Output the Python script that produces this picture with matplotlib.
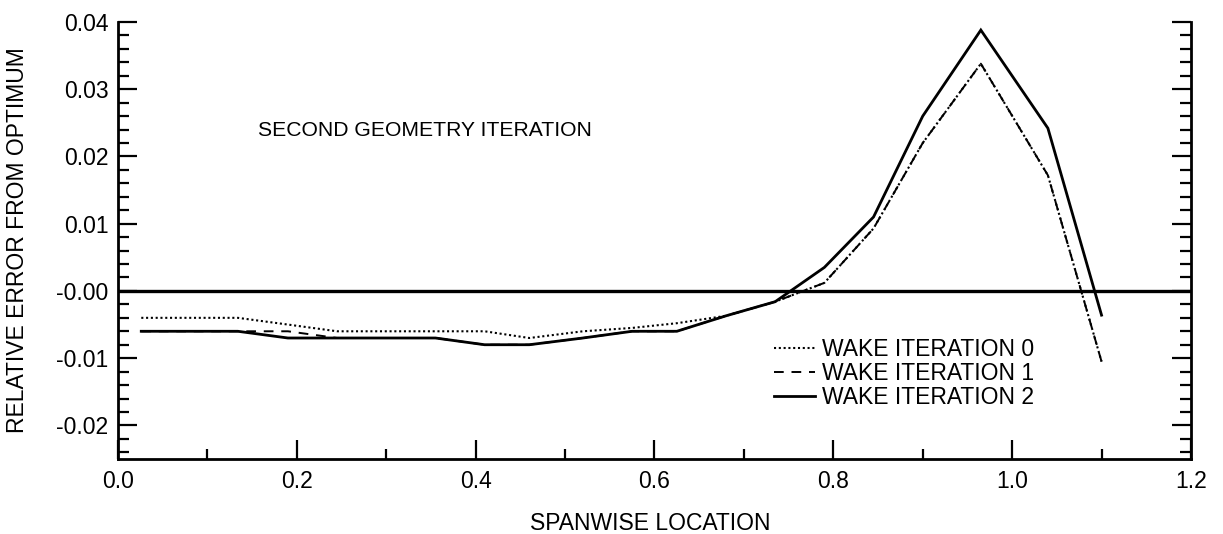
import matplotlib
matplotlib.use('Agg')
import matplotlib.pyplot as plt
from matplotlib.lines import Line2D
from matplotlib.ticker import MultipleLocator

plt.rcParams['font.family'] = ['Liberation Sans', 'DejaVu Sans']

# spanwise stations
span = [0.026, 0.08, 0.134, 0.19, 0.245, 0.30, 0.355, 0.41, 0.46, 0.52,
        0.575, 0.625, 0.68, 0.735, 0.79, 0.845, 0.90, 0.965, 1.04, 1.10]

# relative error from optimum for each wake iteration
wake0 = [-0.004, -0.004, -0.004, -0.005, -0.006, -0.006, -0.006, -0.006, -0.007, -0.006,
         -0.0055, -0.0048, -0.0037, -0.0016, 0.0012, 0.0093, 0.022, 0.0338, 0.0172, -0.0105]
wake1 = [-0.006, -0.006, -0.006, -0.006, -0.007, -0.007, -0.007, -0.008, -0.008, -0.007,
         -0.006, -0.006, -0.0037, -0.0016, 0.0012, 0.0093, 0.022, 0.0338, 0.0172, -0.0105]
wake2 = [-0.006, -0.006, -0.006, -0.007, -0.007, -0.007, -0.007, -0.008, -0.008, -0.007,
         -0.006, -0.006, -0.0037, -0.0016, 0.0035, 0.011, 0.026, 0.0388, 0.0242, -0.0036]

series_names = ['WAKE ITERATION 0', 'WAKE ITERATION 1', 'WAKE ITERATION 2']

xticks = [0.0, 0.2, 0.4, 0.6, 0.8, 1.0, 1.2]
yticks = [-0.02, -0.01, 0.0, 0.01, 0.02, 0.03, 0.04]
ytick_labels = ['-0.02', '-0.01', '-0.00', '0.01', '0.02', '0.03', '0.04']

fig = plt.figure(figsize=(12.23, 5.34), dpi=100)
ax = fig.add_axes([0.0965, 0.1404, 0.8773, 0.8184])

dotted = (0, (1, 1.3))
dashed = (0, (5, 4))

ax.axhline(0.0, color='black', lw=2.4, zorder=1)
ax.plot(span, wake1, color='black', lw=1.4, linestyle=dashed)
ax.plot(span, wake0, color='black', lw=1.5, linestyle=dotted)
ax.plot(span, wake2, color='black', lw=2.0, solid_joinstyle='miter')

ax.set_xlim(0.0, 1.2)
ax.set_ylim(-0.025, 0.04)

ax.set_xticks(xticks)
ax.set_xticklabels(['%.1f' % t for t in xticks])
ax.set_yticks(yticks)
ax.set_yticklabels(ytick_labels)
ax.xaxis.set_minor_locator(MultipleLocator(0.1))
ax.yaxis.set_minor_locator(MultipleLocator(0.002))

ax.tick_params(axis='both', which='major', direction='in', length=14, width=1.6,
               labelsize=16.5, right=True, top=False)
ax.tick_params(axis='x', which='major', pad=8)
ax.tick_params(axis='y', which='major', pad=7)
ax.tick_params(axis='x', which='minor', direction='in', length=7, width=1.6, top=False)
ax.tick_params(axis='y', which='minor', direction='in', length=8, width=1.6, right=True)

ax.spines['top'].set_visible(False)
for s in ['left', 'right', 'bottom']:
    ax.spines[s].set_linewidth(2.0)

ax.set_xlabel('SPANWISE LOCATION', fontsize=16.5)
ax.xaxis.set_label_coords(0.496, -0.122)
ax.set_ylabel('RELATIVE ERROR FROM OPTIMUM', fontsize=16.5)
ax.yaxis.set_label_coords(-0.083, 0.5)

ax.text(0.156, 0.0239, 'SECOND GEOMETRY ITERATION', fontsize=15.2, va='center', ha='left')

handles = [Line2D([], [], color='black', lw=1.5, linestyle=dotted),
           Line2D([], [], color='black', lw=1.4, linestyle=(0, (5, 4))),
           Line2D([], [], color='black', lw=2.0)]
ax.legend(handles, series_names, loc='upper left', bbox_to_anchor=(0.611, 0.277),
          frameon=False, fontsize=16.5, handlelength=1.8, handletextpad=0.3,
          labelspacing=0.04, borderpad=0, borderaxespad=0)

fig.savefig('out.png', dpi=100)
